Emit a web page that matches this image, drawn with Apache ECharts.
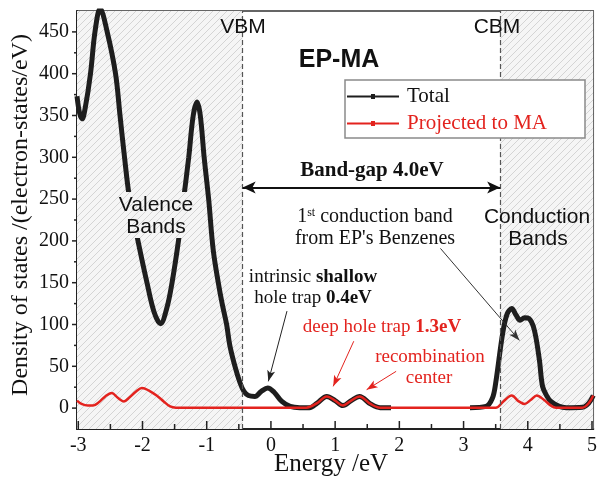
<!DOCTYPE html>
<html>
<head>
<meta charset="utf-8">
<script src="https://cdn.jsdelivr.net/npm/echarts@6.0.0/dist/echarts.min.js"></script>
<style>html,body{margin:0;padding:0;background:#fff}#chart{width:600px;height:483px}</style>
</head>
<body>
<div id="chart"></div>
<script>
// ---- data ----
const energyTotal = [-3.02,-2.98,-2.94,-2.89,-2.81,-2.74,-2.66,-2.55,-2.42,-2.35,-2.28,-2.20,-2.07,-1.93,-1.82,-1.72,-1.62,-1.54,-1.44,-1.36,-1.28,-1.21,-1.15,-1.10,-1.04,-0.97,-0.90,-0.82,-0.76,-0.69,-0.64,-0.56,-0.48,-0.42,-0.35,-0.25,-0.15,-0.05,0.05,0.17,0.30,0.45,0.60,0.72,0.87,1.00,1.12,1.25,1.38,1.55,1.70,1.87,2.50,3.10,3.35,3.45,3.50,3.61,3.68,3.75,3.82,3.88,3.95,4.02,4.10,4.18,4.23,4.30,4.36,4.49,4.60,4.85,4.95,5.02];
const dosTotal    = [373,353,346,360,400,450,478,450,400,350,300,250,200,150,115,101,120,150,200,250,300,350,366,350,300,250,190,150,125,100,75,50,30,20,15,14,20,24,19,8,2,0.5,0.5,6,14,9,3,9,14,5,0.5,0.5,null,0.5,2,12,30,90,113,119,111,105,108,107,94,58,26,14,8,2,0.5,1,6,15];
const energyMA = [-3.02,-2.95,-2.85,-2.77,-2.68,-2.58,-2.48,-2.38,-2.29,-2.20,-2.10,-2.01,-1.90,-1.78,-1.67,-1.57,-1.48,-1.00,0.55,0.72,0.87,1.00,1.12,1.25,1.38,1.55,1.70,3.50,3.62,3.75,3.86,3.95,4.05,4.14,4.25,4.36,4.44,4.85,4.95,5.02];
const dosMA    = [9,5,3,3,7,14,18,12,8,13,20,24,21,15,8,2,0.5,0.5,0.5,6,14,9,3,9,14,5,0.5,0.5,8,15,8,5,10,15,10,3,0.5,0.5,6,15];
const xTicks = [-3,-2,-1,0,1,2,3,4,5];
const xMinorTicks = [-2.5,-1.5,-0.5,0.5,1.5,2.5,3.5,4.5];
const yTicks = [0,50,100,150,200,250,300,350,400,450];
const yMinorTicks = [25,75,125,175,225,275,325,375,425];
const vbm = -0.44, cbm = 3.57;
const bandGapLevel = 264;
// annotation arrows: [fromE, fromDOS, toE, toDOS]
const arrowShallow = [0.25,116,-0.04,32];
const arrowDeep = [1.29,80,0.97,26];
const arrowRecomb = [1.95,44,1.49,22];
const arrowBenzene = [2.64,191,3.87,81];

const RED = '#e3231e';
const SERIF = '"Liberation Serif", "Times New Roman", serif';
const SANS = '"Liberation Sans", Arial, sans-serif';

function hatch(){
  const n = 7, c = document.createElement('canvas');
  c.width = n; c.height = n;
  const g = c.getContext('2d');
  g.fillStyle = '#f5f5f5'; g.fillRect(0,0,n,n);
  g.strokeStyle = '#d4d4d4'; g.lineWidth = 1;
  g.beginPath();
  g.moveTo(0,n); g.lineTo(n,0);
  g.moveTo(-1,1); g.lineTo(1,-1);
  g.moveTo(n-1,n+1); g.lineTo(n+1,n-1);
  g.stroke();
  return c;
}
const hatchPattern = {image: hatch(), repeat: 'repeat'};

const pairs = (xs, ys) => xs.map((x,i) => [x, ys[i] === null ? '-' : ys[i]]);
const arrowLine = (a, color) => [
  {coord:[a[0],a[1]], symbol:'none', lineStyle:{color, width:1, type:'solid'}},
  {coord:[a[2],a[3]], symbol:'arrow', symbolSize:[6,11], lineStyle:{color, width:1, type:'solid'}}
];
const dashStyle = {type:[5,3], color:'#555', width:1.2};

// tick marks drawn through the axis scales
function tickSeries(values, dir, len){
  return {
    type: 'custom', silent: true, clip: false, z: 10, animation: false,
    xAxisIndex: 0, yAxisIndex: 0,
    data: values.map(v => dir === 'x' ? [v, 0] : [0, v]),
    renderItem: function(params, api){
      const cs = params.coordSys;
      if (dir === 'x') {
        const px = api.coord([api.value(0), 0])[0];
        const yb = cs.y + cs.height;
        return {type:'line', shape:{x1:px, y1:yb, x2:px, y2:yb - len}, style:{stroke:'#222', lineWidth:1.5}};
      } else {
        const py = api.coord([0, api.value(1)])[1];
        const xl = cs.x;
        return {type:'line', shape:{x1:xl - len, y1:py, x2:xl, y2:py}, style:{stroke:'#222', lineWidth:1.5}};
      }
    }
  };
}

const chart = echarts.init(document.getElementById('chart'), null, {renderer:'canvas'});
const axisLabelStyle = {fontFamily: SERIF, fontSize: 20, color: '#111'};
chart.setOption({
  animation: false,
  grid: {left: 77, right: 5, top: 11, bottom: 54, show: true, borderColor: '#333', borderWidth: 1.5, backgroundColor: 'transparent'},
  xAxis: {
    type: 'value', min: -3.02, max: 5.02, position: 'bottom',
    axisLine: {show: true, onZero: false, lineStyle: {color: '#222', width: 2}},
    axisTick: {show: false},
    axisLabel: Object.assign({show: true, customValues: xTicks, margin: 7}, axisLabelStyle),
    splitLine: {show: false}
  },
  yAxis: {
    type: 'value', min: -25, max: 475, position: 'left',
    axisLine: {show: true, onZero: false, lineStyle: {color: '#222', width: 2}},
    axisTick: {show: false},
    axisLabel: Object.assign({show: true, customValues: yTicks, margin: 8}, axisLabelStyle),
    splitLine: {show: false}
  },
  legend: {
    orient: 'vertical', left: 347, top: 86, padding: 0, z: 20,
    itemWidth: 52, itemHeight: 5, itemGap: 6,
    icon: 'path://M0,1.5L52,1.5L52,3.5L0,3.5Z M24,0L28,0L28,5L24,5Z',
    selectedMode: false,
    textStyle: {fontFamily: SERIF, fontSize: 21, padding: [0,0,0,3]},
    data: [
      {name: 'Total', textStyle: {color: '#111'}},
      {name: 'Projected to MA', textStyle: {color: RED}}
    ]
  },
  series: [{
    name: 'Total', type: 'line',
    data: pairs(energyTotal, dosTotal),
    smooth: 0.35, connectNulls: false, showSymbol: false, symbol: 'none',
    lineStyle: {color: '#1e1e1e', width: 5}, itemStyle: {color: '#1e1e1e'},
    emphasis: {disabled: true}, z: 2,
    markArea: {
      silent: true,
      itemStyle: {color: hatchPattern, opacity: 1},
      data: [[{xAxis: -3.02}, {xAxis: vbm}], [{xAxis: cbm}, {xAxis: 5.02}]]
    },
    markLine: {
      silent: true, animation: false, symbol: ['none','none'],
      label: {show: false},
      data: [
        {xAxis: vbm, lineStyle: dashStyle},
        {xAxis: cbm, lineStyle: dashStyle},
        [
          {coord:[vbm, bandGapLevel], symbol:'arrow', symbolSize:[9,13], lineStyle:{color:'#111', width:2, type:'solid'}},
          {coord:[cbm, bandGapLevel], symbol:'arrow', symbolSize:[9,13], lineStyle:{color:'#111', width:2, type:'solid'}}
        ],
        arrowLine(arrowShallow, '#222'),
        arrowLine(arrowBenzene, '#333'),
        arrowLine(arrowDeep, RED),
        arrowLine(arrowRecomb, RED)
      ]
    }
  },{
    name: 'Projected to MA', type: 'line',
    data: pairs(energyMA, dosMA),
    smooth: 0.35, showSymbol: false, symbol: 'none',
    lineStyle: {color: RED, width: 2.5}, itemStyle: {color: RED},
    emphasis: {disabled: true}, z: 3
  },
  tickSeries(xTicks, 'x', 8),
  tickSeries(xMinorTicks, 'x', 5),
  tickSeries(yTicks, 'y', 5),
  tickSeries(yMinorTicks, 'y', 3)
  ],
  graphic: {elements: [
    {type:'rect', z: 15, shape:{x:345, y:80, width:240, height:58}, style:{fill:'#fff', stroke:'#8a8a8a', lineWidth:1.5}},
    {type:'rect', z: 5, shape:{x:114, y:192, width:85, height:46}, style:{fill: hatchPattern}},
    {type:'text', z: 20, x:243, y:27, style:{text:'VBM', font:'21px '+SANS, fill:'#111', align:'center', verticalAlign:'middle', textAlign:'center', textVerticalAlign:'middle'}},
    {type:'text', z: 20, x:497, y:27, style:{text:'CBM', font:'21px '+SANS, fill:'#111', align:'center', verticalAlign:'middle', textAlign:'center', textVerticalAlign:'middle'}},
    {type:'text', z: 20, x:339, y:60, style:{text:'EP-MA', font:'bold 25px '+SANS, fill:'#111', align:'center', verticalAlign:'middle', textAlign:'center', textVerticalAlign:'middle'}},
    {type:'text', z: 20, x:372, y:171, style:{text:'Band-gap 4.0eV', font:'bold 21px '+SERIF, fill:'#111', align:'center', verticalAlign:'middle', textAlign:'center', textVerticalAlign:'middle'}},
    {type:'text', z: 20, x:375, y:217, style:{text:'{n|1}{s|st}{n| conduction band}', align:'center', verticalAlign:'middle', textAlign:'center', textVerticalAlign:'middle',
      rich:{n:{fontFamily:SERIF, fontSize:20, fill:'#111'}, s:{fontFamily:SERIF, fontSize:12, fill:'#111', verticalAlign:'top'}}}},
    {type:'text', z: 20, x:375, y:239, style:{text:"from EP's Benzenes", font:'20px '+SERIF, fill:'#111', align:'center', verticalAlign:'middle', textAlign:'center', textVerticalAlign:'middle'}},
    {type:'text', z: 20, x:537, y:217, style:{text:'Conduction', font:'21px '+SANS, fill:'#111', align:'center', verticalAlign:'middle', textAlign:'center', textVerticalAlign:'middle'}},
    {type:'text', z: 20, x:538, y:239, style:{text:'Bands', font:'21px '+SANS, fill:'#111', align:'center', verticalAlign:'middle', textAlign:'center', textVerticalAlign:'middle'}},
    {type:'text', z: 20, x:156, y:205, style:{text:'Valence', font:'21px '+SANS, fill:'#111', align:'center', verticalAlign:'middle', textAlign:'center', textVerticalAlign:'middle'}},
    {type:'text', z: 20, x:156, y:227, style:{text:'Bands', font:'21px '+SANS, fill:'#111', align:'center', verticalAlign:'middle', textAlign:'center', textVerticalAlign:'middle'}},
    {type:'text', z: 20, x:313, y:277, style:{text:'{n|intrinsic }{b|shallow}', align:'center', verticalAlign:'middle', textAlign:'center', textVerticalAlign:'middle',
      rich:{n:{fontFamily:SERIF, fontSize:19, fill:'#111'}, b:{fontFamily:SERIF, fontSize:19, fontWeight:'bold', fill:'#111'}}}},
    {type:'text', z: 20, x:313, y:298, style:{text:'{n|hole trap }{b|0.4eV}', align:'center', verticalAlign:'middle', textAlign:'center', textVerticalAlign:'middle',
      rich:{n:{fontFamily:SERIF, fontSize:19, fill:'#111'}, b:{fontFamily:SERIF, fontSize:19, fontWeight:'bold', fill:'#111'}}}},
    {type:'text', z: 20, x:382, y:327, style:{text:'{n|deep hole trap }{b|1.3eV}', align:'center', verticalAlign:'middle', textAlign:'center', textVerticalAlign:'middle',
      rich:{n:{fontFamily:SERIF, fontSize:19, fill:RED}, b:{fontFamily:SERIF, fontSize:19, fontWeight:'bold', fill:RED}}}},
    {type:'text', z: 20, x:430, y:357, style:{text:'recombination', font:'19px '+SERIF, fill:RED, align:'center', verticalAlign:'middle', textAlign:'center', textVerticalAlign:'middle'}},
    {type:'text', z: 20, x:429, y:378, style:{text:'center', font:'19px '+SERIF, fill:RED, align:'center', verticalAlign:'middle', textAlign:'center', textVerticalAlign:'middle'}},
    {type:'text', z: 20, x:331, y:464, style:{text:'Energy /eV', font:'25px '+SERIF, fill:'#111', align:'center', verticalAlign:'middle', textAlign:'center', textVerticalAlign:'middle'}},
    {type:'text', z: 20, x:21, y:215, rotation: Math.PI/2, style:{text:'Density of states /(electron-states/eV)', font:'24px '+SERIF, fill:'#111', align:'center', verticalAlign:'middle', textAlign:'center', textVerticalAlign:'middle'}}
  ]}
});
</script>
</body>
</html>
